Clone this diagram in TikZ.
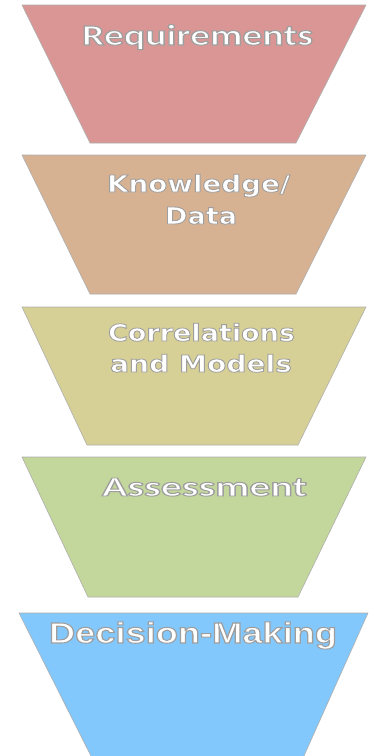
\documentclass[tikz,border=0pt]{standalone}
\usepackage{fontspec}
\usepackage{graphicx}
\newfontfamily\calfont{Carlito}
\newfontfamily\verfont{DejaVu Sans}
\newfontfamily\arifont{Liberation Sans}
\definecolor{reqc}{RGB}{217,150,148}
\definecolor{knoc}{RGB}{214,178,146}
\definecolor{corc}{RGB}{215,208,150}
\definecolor{assc}{RGB}{195,214,155}
\definecolor{decc}{RGB}{130,200,252}
\definecolor{edgec}{RGB}{175,175,175}
% white text with a thin grey outline (PDF text render mode 2: fill + stroke)
\newcommand{\outlined}[1]{{\color{white}\special{pdf:literal direct 2 Tr 0.7 w 0.62 G}#1\special{pdf:literal direct 0 Tr}}}
\newcommand{\fitlabel}[4]{\resizebox{#2}{#3}{\fontsize{20}{24}\selectfont#1\smash{\outlined{#4}}\vphantom{H}}}
\tikzset{
  funnel/.style={draw=edgec, line width=0.6pt, line join=round},
  lbl/.style={anchor=base, inner sep=0pt, outer sep=0pt}
}
\begin{document}
\begin{tikzpicture}[x=1pt,y=1pt]
\useasboundingbox (0,0) rectangle (368,-756);
\fill[white] (0,0) rectangle (368,-756);
% trapezoids
\draw[funnel, fill=reqc] (22,-5) -- (366,-5) -- (296,-143) -- (90,-143) -- cycle;
\draw[funnel, fill=knoc] (22,-155) -- (366,-155) -- (296,-294) -- (90,-294) -- cycle;
\draw[funnel, fill=corc] (22,-307) -- (366,-307) -- (298,-445) -- (87,-445) -- cycle;
\draw[funnel, fill=assc] (22,-457) -- (366,-457) -- (298,-597) -- (88,-597) -- cycle;
\draw[funnel, fill=decc] (19,-613) -- (368,-613) -- (303,-758) -- (92,-758) -- cycle;
% labels
\node[lbl] (req) at (197.5,-45) {\fitlabel{\calfont\bfseries}{231pt}{19pt}{Requirements}};
\node[lbl] (kno1) at (198.5,-192) {\fitlabel{\verfont\bfseries}{183pt}{17pt}{Knowledge/}};
\node[lbl] (kno2) at (201,-224) {\fitlabel{\verfont\bfseries}{72pt}{17pt}{Data}};
\node[lbl] (cor1) at (201.5,-341) {\fitlabel{\verfont\bfseries}{187pt}{17pt}{Correlations}};
\node[lbl] (cor2) at (201,-372) {\fitlabel{\verfont\bfseries}{182pt}{17pt}{and Models}};
\node[lbl] (ass) at (204.5,-496) {\fitlabel{\calfont\bfseries}{205pt}{18pt}{Assessment}};
\node[lbl] (dec) at (193,-643) {\fitlabel{\arifont\bfseries}{288pt}{20pt}{Decision-Making}};
\end{tikzpicture}
\end{document}
